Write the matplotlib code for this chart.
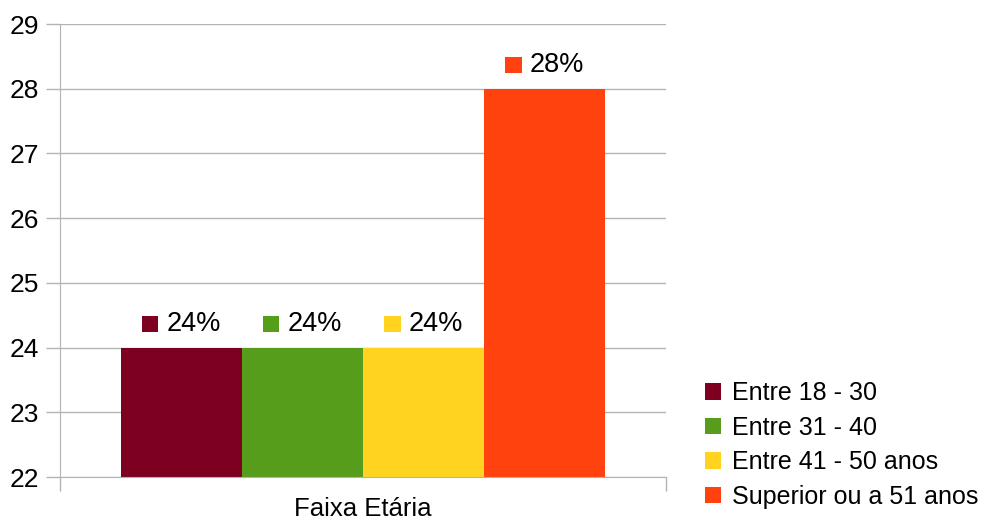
import matplotlib
matplotlib.use("Agg")
import numpy as np
from matplotlib import pyplot as plt
from matplotlib.patches import Rectangle
from matplotlib.offsetbox import AnnotationBbox, DrawingArea, HPacker, TextArea

plt.rcParams['font.family'] = ['Liberation Sans', 'DejaVu Sans']

category = "Faixa Etária"
labels   = ["Entre 18 - 30", "Entre 31 - 40", "Entre 41 - 50 anos", "Superior ou a 51 anos"]
values   = [24, 24, 24, 28]
texts    = ["24%", "24%", "24%", "28%"]
colors   = ["#7E0021", "#579D1C", "#FFD320", "#FF420E"]
grid_col = "#b3b3b3"

fig = plt.figure(figsize=(9.87, 5.2), dpi=100)
ax = fig.add_axes([60/987, 43/520, 606/987, 453/520])

width = 0.2
X = np.arange(len(values)) * width - 0.3
bars = ax.bar(X, values, width=width, color=colors, zorder=2)

ax.set_xlim(-0.5, 0.5)
ax.set_ylim(22, 29)
ax.set_yticks(range(22, 30))
ax.yaxis.grid(True, color=grid_col, linewidth=1, zorder=0)
ax.set_xticks([-0.5, 0.5])
ax.set_xticklabels(["", ""])
ax.tick_params(axis='both', colors=grid_col, length=10, width=1, labelcolor="black", labelsize=19, pad=5)
for s in ["top", "right"]:
    ax.spines[s].set_visible(False)
ax.spines["left"].set_color(grid_col)
ax.spines["bottom"].set_color(grid_col)
ax.text(0.5, -0.045, category, transform=ax.transAxes, ha="center", va="top", fontsize=18.5)

# value labels: coloured square + text
for x, v, t, c in zip(X, values, texts, colors):
    da = DrawingArea(12, 12, 0, 0)
    da.add_artist(Rectangle((0, 0), 12, 12, facecolor=c, edgecolor="none"))
    ta = TextArea(t, textprops=dict(fontsize=19.5))
    box = HPacker(children=[da, ta], align="center", pad=0, sep=6)
    ab = AnnotationBbox(box, (x, v), xybox=(0, 17), xycoords="data",
                        boxcoords="offset points", frameon=False, box_alignment=(0.5, 0.5))
    ax.add_artist(ab)

fig.legend(handles=bars, labels=labels, loc="center left", bbox_to_anchor=(0.714, 0.144),
           frameon=False, fontsize=18, handlelength=0.64, handleheight=0.64,
           handletextpad=0.45, labelspacing=0.42, borderaxespad=0, borderpad=0)

fig.savefig("out.png", dpi=100)
